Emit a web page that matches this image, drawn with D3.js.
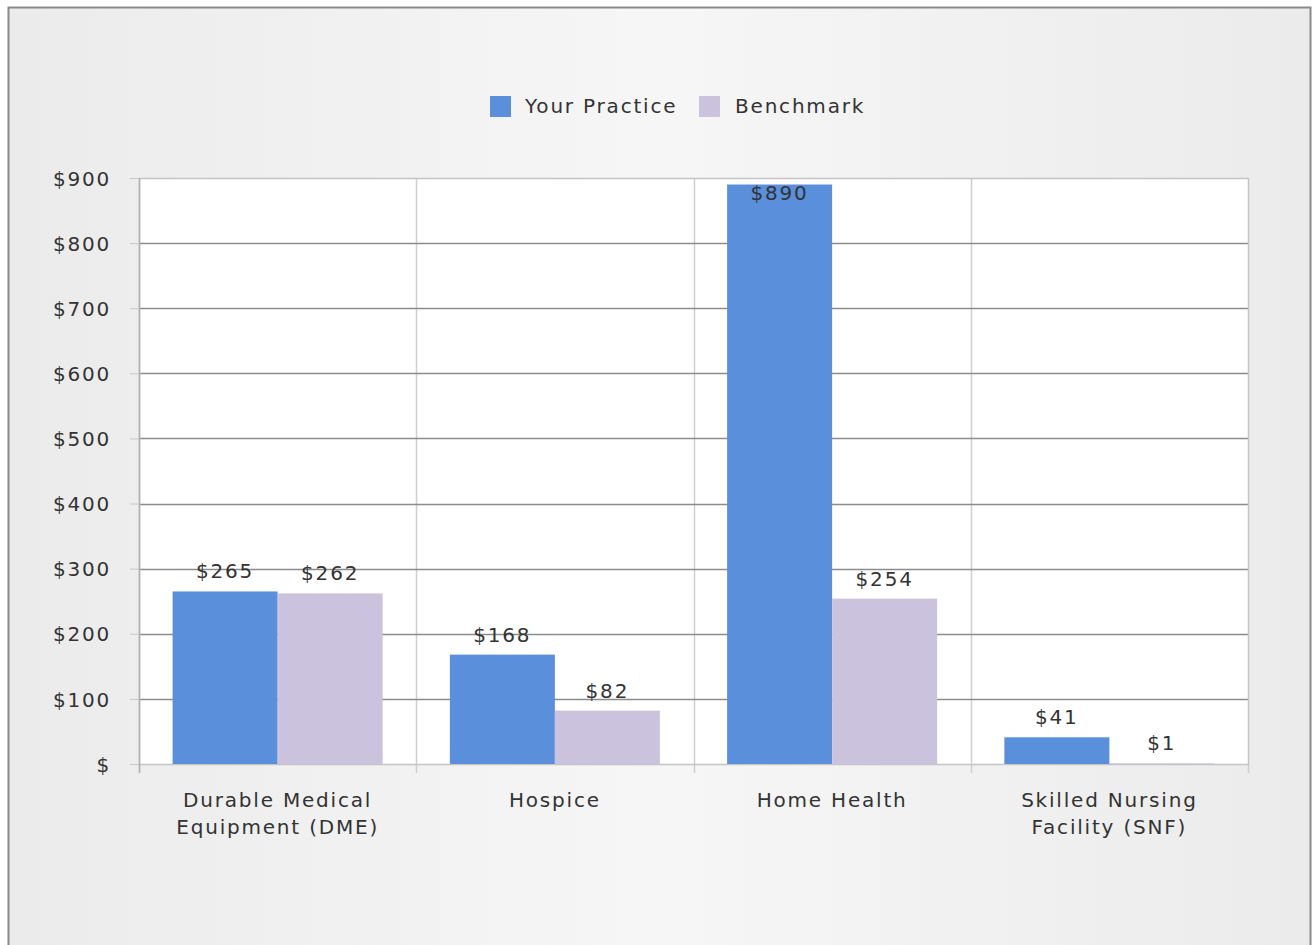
<!DOCTYPE html>
<html>
<head>
<meta charset="utf-8">
<script src="https://cdn.jsdelivr.net/npm/d3@7"></script>
<style>
  html, body { margin: 0; padding: 0; background: #ffffff; }
  svg { display: block; }
  text { font-family: "DejaVu Sans", Verdana, sans-serif; font-size: 20px; fill: #333; letter-spacing: 1.8px; }
</style>
</head>
<body>
<svg id="chart" width="1312" height="945"></svg>
<script>
const categories = [["Durable Medical", "Equipment (DME)"], ["Hospice"], ["Home Health"], ["Skilled Nursing", "Facility (SNF)"]];
const seriesNames = ["Your Practice", "Benchmark"];
const yourPractice = [265, 168, 890, 41];
const benchmark = [262, 82, 254, 1];
const yTicks = [0, 100, 200, 300, 400, 500, 600, 700, 800, 900];
const colors = ["#5a8fdb", "#cbc3de"];

const W = 1312, H = 945;
const m = { left: 139, right: 1248, top: 178, bottom: 764 };
const svg = d3.select("#chart");

// background frame
const defs = svg.append("defs");
const g = defs.append("linearGradient").attr("id", "bg").attr("x1", "0").attr("x2", "1").attr("y1", "0").attr("y2", "0");
g.append("stop").attr("offset", "0%").attr("stop-color", "#ebebeb");
g.append("stop").attr("offset", "50%").attr("stop-color", "#f6f6f6");
g.append("stop").attr("offset", "100%").attr("stop-color", "#ebebeb");
svg.append("rect").attr("x", 0).attr("y", 0).attr("width", W).attr("height", H).attr("fill", "#ffffff");
svg.append("rect").attr("x", 8.5).attr("y", 7.5).attr("width", W - 10).attr("height", H).attr("fill", "url(#bg)")
  .attr("stroke", "#8a8a8a").attr("stroke-width", 2);

const x0 = d3.scaleBand().domain(d3.range(categories.length)).range([m.left, m.right]).paddingInner(0).paddingOuter(0);
const x1 = d3.scaleBand().domain(d3.range(seriesNames.length)).range([0, x0.bandwidth()]).paddingOuter(0.32).paddingInner(0);
const y = d3.scaleLinear().domain([0, 900]).range([m.bottom, m.top]);

// plot background
svg.append("rect").attr("x", m.left).attr("y", m.top).attr("width", m.right - m.left).attr("height", m.bottom - m.top).attr("fill", "#ffffff");

// vertical separators (with ticks below)
const seps = d3.range(1, categories.length).map(i => x0(i));
svg.selectAll("line.vsep").data(seps).join("line")
  .attr("x1", d => Math.round(d) + 0.5).attr("x2", d => Math.round(d) + 0.5)
  .attr("y1", m.top).attr("y2", m.bottom + 9).attr("stroke", "#cfcfcf").attr("stroke-width", 1.5);
svg.selectAll("line.btick").data([m.left, m.right]).join("line")
  .attr("x1", d => d + 0.5).attr("x2", d => d + 0.5)
  .attr("y1", m.bottom).attr("y2", m.bottom + 9).attr("stroke", "#cfcfcf").attr("stroke-width", 1.5);

// horizontal gridlines
svg.selectAll("line.hgrid").data(yTicks.filter(t => t > 0 && t < 900)).join("line")
  .attr("x1", m.left).attr("x2", m.right)
  .attr("y1", d => Math.round(y(d)) + 0.5).attr("y2", d => Math.round(y(d)) + 0.5)
  .attr("stroke", "#8c8c8c").attr("stroke-width", 1.5);

// plot border
svg.append("rect").attr("x", m.left + 0.5).attr("y", m.top + 0.5).attr("width", m.right - m.left).attr("height", m.bottom - m.top)
  .attr("fill", "none").attr("stroke", "#c4c4c4").attr("stroke-width", 1.5);
svg.append("line").attr("x1", m.left + 0.5).attr("x2", m.left + 0.5).attr("y1", m.top).attr("y2", m.bottom + 9)
  .attr("stroke", "#b0b0b0").attr("stroke-width", 1.5);

// y axis ticks and labels
const yAxis = d3.axisLeft(y).tickValues(yTicks).tickSize(9).tickPadding(19)
  .tickFormat(d => d === 0 ? "$" : "$" + d);
const ya = svg.append("g").attr("transform", `translate(${m.left},0)`).call(yAxis);
ya.select(".domain").remove();
ya.selectAll(".tick line").attr("stroke", "#c8c8c8").attr("stroke-width", 1);
ya.selectAll(".tick text").attr("font-family", null).attr("font-size", null).attr("fill", "#333").attr("dy", "0.36em");

// bars
const data = categories.map((c, i) => [yourPractice[i], benchmark[i]]);
const groups = svg.selectAll("g.grp").data(data).join("g").attr("transform", (d, i) => `translate(${x0(i)},0)`);
groups.selectAll("rect").data(d => d.map((v, k) => ({ v, k }))).join("rect")
  .attr("x", d => x1(d.k)).attr("width", x1.bandwidth())
  .attr("y", d => y(d.v)).attr("height", d => m.bottom - y(d.v))
  .attr("fill", d => colors[d.k]);
groups.selectAll("text.val").data(d => d.map((v, k) => ({ v, k }))).join("text")
  .attr("class", "val")
  .attr("x", d => x1(d.k) + x1.bandwidth() / 2)
  .attr("y", d => Math.max(y(d.v) - 13, m.top + 22))
  .attr("text-anchor", "middle")
  .text(d => "$" + d.v);

// category labels
const cl = svg.selectAll("text.cat").data(categories).join("text")
  .attr("class", "cat").attr("text-anchor", "middle")
  .attr("transform", (d, i) => `translate(${x0(i) + x0.bandwidth() / 2},807)`);
cl.selectAll("tspan").data(d => d).join("tspan")
  .attr("x", 0).attr("y", (d, j) => j * 27).text(d => d);

// legend
const legend = svg.append("g");
const legItems = [{ x: 490, tx: 525 }, { x: 699, tx: 735 }];
seriesNames.forEach((s, k) => {
  legend.append("rect").attr("x", legItems[k].x).attr("y", 96).attr("width", 21).attr("height", 21).attr("fill", colors[k]);
  legend.append("text").attr("x", legItems[k].tx).attr("y", 113).text(s);
});
</script>
</body>
</html>
